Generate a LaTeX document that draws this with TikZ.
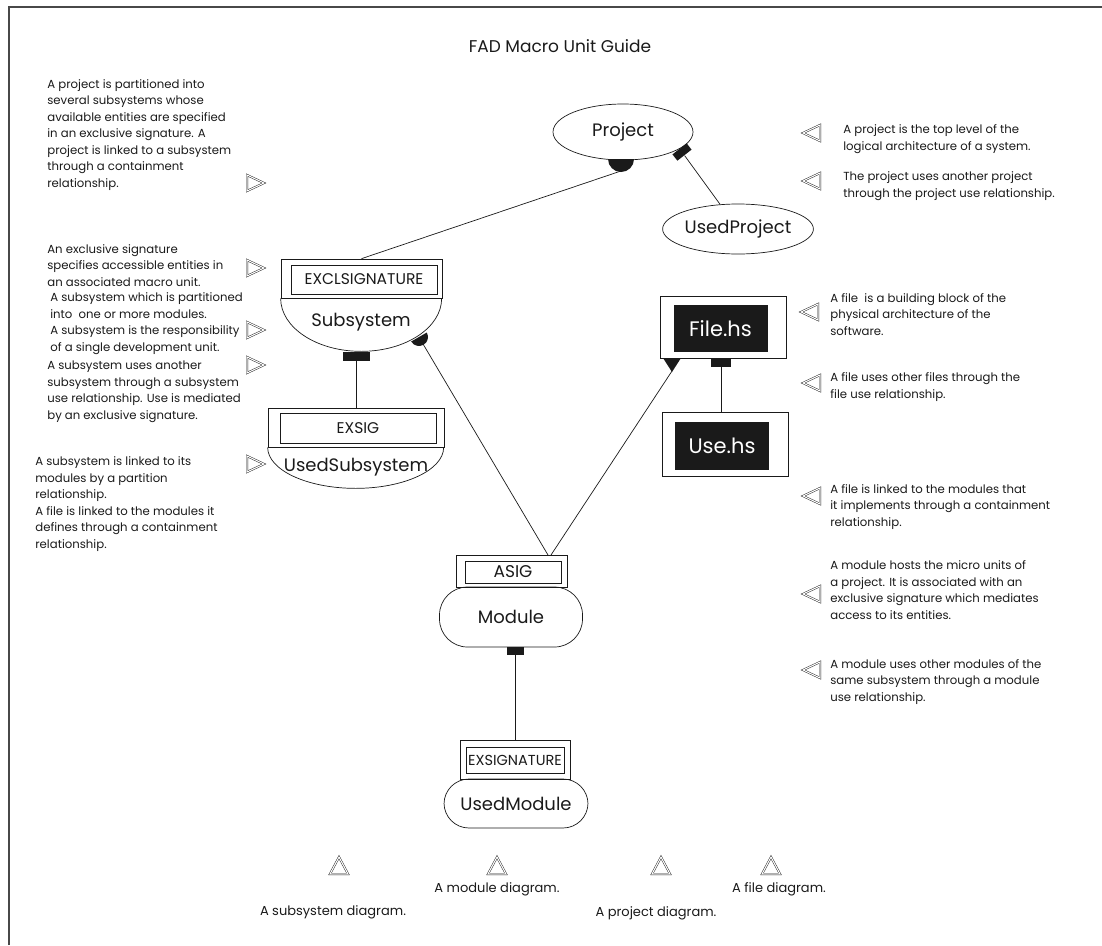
\documentclass[tikz,border=0pt]{standalone}
\usepackage{fontspec}
\setmainfont{Poppins}
\usetikzlibrary{shapes.geometric,calc}
\definecolor{ink}{HTML}{1A1A1A}
\begin{document}
\begin{tikzpicture}[x=1pt,y=-1pt,line width=0.7pt,draw=ink,
  desc/.style={anchor=base west,align=left,inner sep=0pt,text=ink,
    font=\fontsize{11.7}{16.5}\selectfont},
  legendtext/.style={anchor=base,inner sep=0pt,text=ink,font=\fontsize{13}{16.5}\selectfont},
  unitlabel/.style={inner sep=0pt,text=ink,font=\fontsize{18}{20}\selectfont},
  siglabel/.style={draw,inner sep=0pt,text=ink,font=\fontsize{15.5}{17}\selectfont},
  boxframe/.style={draw,inner sep=0pt},
  blackbox/.style={fill=ink,inner sep=0pt,text=white,font=\fontsize{21}{23}\selectfont},
  knob/.style={fill=ink,inner sep=0pt},
  hintline/.style={draw=ink,line width=0.45pt,double=white,double distance=1.1pt},
  trir/.pic={\draw[hintline] (-8,-8) -- (9,0) -- (-8,8) -- cycle;},
  tril/.pic={\draw[hintline] (8,-8) -- (-9,0) -- (8,8) -- cycle;},
  triu/.pic={\draw[hintline] (-9,8) -- (0,-9) -- (9,8) -- cycle;}]
\useasboundingbox (0,0) rectangle (1102,945);
% page frame (left and top edges)
\draw[line width=1.2pt,draw=ink!80] (9,945) -- (9,7) -- (1102,7);

\node[anchor=base,text=ink,font=\fontsize{17}{20}\selectfont] (title) at (560,52) {FAD Macro Unit Guide};

% ---------- project level ----------
\node[ellipse,draw,minimum width=140pt,minimum height=56pt,unitlabel] (project) at (623,132) {Project};
\node[ellipse,draw,minimum width=118pt,minimum height=50pt,unitlabel] (usedproject) at (738,229) {UsedProject};
\fill[ink] (608,159) arc[start angle=180,end angle=0,radius=13] -- cycle;
\coordinate (pdisc) at (621,171);
\node[knob,minimum width=18pt,minimum height=8pt,rotate=38] (psq) at (682,152) {};

% ---------- subsystem ----------
\node[boxframe,minimum width=161pt,minimum height=39pt] (subhead) at (361.5,278.5) {};
\node[siglabel,minimum width=146pt,minimum height=29pt] (subsig) at (364,279.5) {EXCLSIGNATURE};
\draw (subhead.south west) arc[start angle=180,end angle=0,x radius=80.5,y radius=53];
\node[unitlabel] (subsystem) at (361,322) {Subsystem};
\node[knob,minimum width=27pt,minimum height=9pt] (subsq) at (356,356.5) {};
\coordinate (sdc) at (419,337);
\fill[ink] ($(sdc)+(-30:9)$) arc[start angle=-30,end angle=150,radius=9] -- cycle;
\coordinate (sdisc) at ($(sdc)+(60:8)$);

% ---------- used subsystem ----------
\node[boxframe,minimum width=176pt,minimum height=39pt] (ushead) at (356,427.5) {};
\node[siglabel,minimum width=156pt,minimum height=30pt] (ussig) at (358,428) {EXSIG};
\draw (ushead.south west) arc[start angle=180,end angle=0,x radius=88,y radius=41];
\node[unitlabel] (usedsubsystem) at (356,467) {UsedSubsystem};

% ---------- files ----------
\node[boxframe,minimum width=126pt,minimum height=62pt] (filebox) at (723,327) {};
\node[blackbox,minimum width=94pt,minimum height=47pt] (file) at (720.5,328.5) {File.hs};
\node[knob,minimum width=20pt,minimum height=9pt] (fsq) at (721,362.5) {};
\fill[ink] (663,358) -- (681,358) -- (672,372) -- cycle;
\coordinate (ftri) at (672,371);
\node[boxframe,minimum width=126pt,minimum height=64pt] (usebox) at (725,444) {};
\node[blackbox,minimum width=94pt,minimum height=48pt] (use) at (722,446) {Use.hs};

% ---------- module ----------
\node[boxframe,minimum width=111pt,minimum height=32pt] (asighead) at (512,571) {};
\node[siglabel,minimum width=96pt,minimum height=22pt,font=\fontsize{17}{19}\selectfont] (asig) at (513,572) {ASIG};
\node[draw,rounded corners=28pt,minimum width=143pt,minimum height=60pt,unitlabel] (module) at (511,617) {Module};
\node[knob,minimum width=17pt,minimum height=8pt] (msq) at (515,651) {};
\coordinate (mjoinl) at (548,555);
\coordinate (mjoinr) at (551,555);

% ---------- used module ----------
\node[boxframe,minimum width=110pt,minimum height=39pt] (umhead) at (515,759.5) {};
\node[siglabel,minimum width=98pt,minimum height=26pt,font=\fontsize{14.5}{16}\selectfont] (umsig) at (515,760) {EXSIGNATURE};
\node[draw,rounded corners=25pt,minimum width=144pt,minimum height=49pt,unitlabel] (usedmodule) at (516,803.5) {UsedModule};

% ---------- relationships ----------
\draw (pdisc) -- (subhead.north);
\draw (psq) -- (usedproject);
\draw (subsq.south) -- (subsq.south |- ushead.north);
\draw (sdisc) -- (mjoinl);
\draw (ftri) -- (mjoinr);
\draw (fsq.south) -- (fsq.south |- usebox.north);
\draw (msq.south) -- (msq.south |- umhead.north);

% ---------- left notes (anchored at the baseline of the last line) ----------
\node[desc] (n1) at (47,187) {A project is partitioned into\\several subsystems whose\\available entities are specified\\in an exclusive signature. A\\project is linked to a subsystem\\through a containment\\relationship.};
\pic at (255,183) {trir};
\node[desc] (n2) at (47,286) {An exclusive signature\\specifies accessible entities in\\an associated macro unit.};
\pic at (255,268) {trir};
\node[desc] (n3) at (50,351) {A subsystem which is partitioned\\into\ \ one or more modules.\\A subsystem is the responsibility\\of a single development unit.};
\pic at (255,330) {trir};
\node[desc] (n4) at (47,419) {A subsystem uses another\\subsystem through a subsystem\\use relationship. Use is mediated\\by an exclusive signature.};
\pic at (255,365) {trir};
\node[desc] (n5) at (35,548) {A subsystem is linked to its\\modules by a partition\\relationship.\\A file is linked to the modules it\\defines through a containment\\relationship.};
\pic at (255,464) {trir};

% ---------- right notes ----------
\pic at (812,133) {tril};
\node[desc] (n6) at (843,150) {A project is the top level of the\\logical architecture of a system.};
\pic at (812,181) {tril};
\node[desc] (n7) at (843,197) {The project uses another project\\through the project use relationship.};
\pic at (810,312) {tril};
\node[desc] (n8) at (830,335) {A file\ \ is a building block of the\\physical architecture of the\\software.};
\pic at (812,383) {tril};
\node[desc] (n9) at (830,398) {A file uses other files through the\\file use relationship.};
\pic at (812,496) {tril};
\node[desc] (n10) at (830,526) {A file is linked to the modules that\\it implements through a containment\\relationship.};
\pic at (812,594) {tril};
\node[desc] (n11) at (830,619) {A module hosts the micro units of\\a project. It is associated with an\\exclusive signature which mediates\\access to its entities.};
\pic at (812,670) {tril};
\node[desc] (n12) at (830,701) {A module uses other modules of the\\same subsystem through a module\\use relationship.};

% ---------- diagram legend ----------
\pic at (339,866) {triu};
\pic at (497,866) {triu};
\pic at (661,866) {triu};
\pic at (771,866) {triu};
\node[legendtext] (l1) at (333,915) {A subsystem diagram.};
\node[legendtext] (l2) at (497,892) {A module diagram.};
\node[legendtext] (l3) at (656,916) {A project diagram.};
\node[legendtext] (l4) at (779,892) {A file diagram.};
\end{tikzpicture}
\end{document}
